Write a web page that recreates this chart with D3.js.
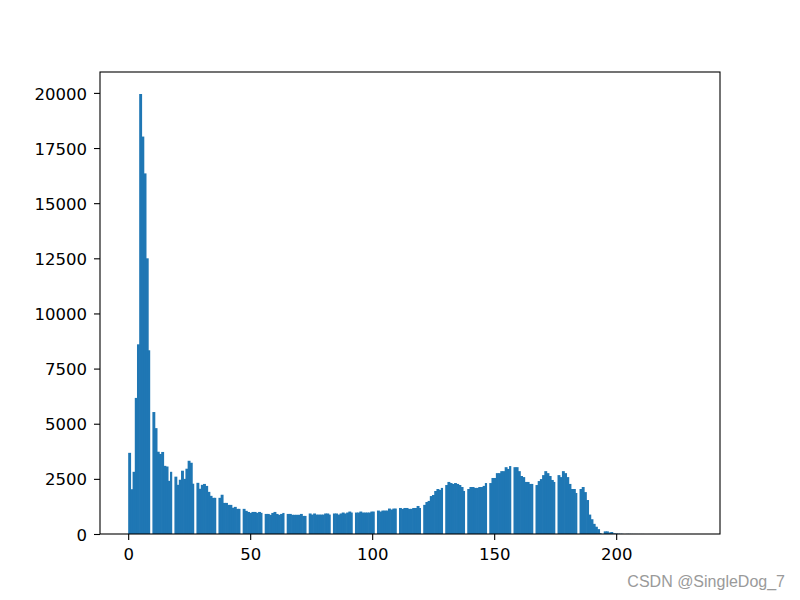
<!DOCTYPE html>
<html>
<head>
<meta charset="utf-8">
<script src="https://cdn.jsdelivr.net/npm/d3@7"></script>
<style>
  html, body { margin: 0; padding: 0; background: #ffffff; }
  svg { display: block; }
</style>
</head>
<body>
<svg id="chart" width="800" height="600"></svg>
<script>
// Pixel counts for intensity values 0..231 (index = intensity)
const counts = [
  3680, 2030, 2820, 6170, 8600, 19950, 18020, 16350, 12500, 8330,
  5530, 4800, 3730, 3630, 3720, 3090, 3060, 2410, 2820, 2600,
  2230, 2460, 2870, 2500, 2960, 3320, 3230, 2280, 2320, 2050,
  2230, 2270, 2180, 1910, 1730, 1640, 1640, 1640, 1780, 1410,
  1410, 1320, 1320, 1190, 1230, 1140, 1140, 1140, 1050, 1000,
  960, 1000, 1000, 960, 1000, 960, 910, 910, 870, 955,
  1000, 910, 870, 910, 955, 910, 910, 870, 870, 870,
  870, 910, 820, 820, 930, 880, 930, 880, 880, 880,
  880, 930, 930, 880, 930, 930, 880, 930, 973, 930,
  973, 1018, 973, 973, 973, 1018, 973, 973, 973, 973,
  1018, 1018, 1063, 1018, 1063, 1063, 1063, 1154, 1109, 1154,
  1154, 1180, 1140, 1180, 1180, 1140, 1140, 1180, 1180, 1270,
  1180, 1320, 1450, 1500, 1720, 1770, 1950, 2040, 2000, 2090,
  2220, 2360, 2310, 2270, 2310, 2270, 2220, 2130, 1950, 2040,
  2130, 2130, 2090, 2090, 2130, 2130, 2180, 2310, 2310, 2540,
  2540, 2760, 2760, 2850, 2850, 3030, 2950, 3080, 3030, 3030,
  2850, 2630, 2580, 2360, 2360, 2270, 2270, 2220, 2400, 2490,
  2670, 2850, 2760, 2630, 2450, 2360, 2670, 2580, 2850, 2760,
  2580, 2270, 2040, 2040, 1860, 2040, 2130, 1900, 1540, 880,
  670, 460, 330, 220, 40, 120, 120, 70, 90, 30,
  20, 15, 10, 8, 6, 5, 4, 3, 3, 2,
  2, 2, 1, 1, 1, 1, 1, 1, 1, 0,
  0, 1, 0, 0, 1, 0, 0, 0, 0, 0,
  0, 1
];
const binCount = 256;
const xTicks = [0, 50, 100, 150, 200];
const yTicks = [0, 2500, 5000, 7500, 10000, 12500, 15000, 17500, 20000];
const watermark = "CSDN @SingleDog_7";

// Histogram: 256 equal bins over [min, max] of the intensity values (like plt.hist(img.ravel(), 256))
const lo = 0, hi = counts.length - 1;
const edges = d3.range(binCount + 1).map(i => lo + i * (hi - lo) / binCount);
const bins = new Array(binCount).fill(0);
counts.forEach((c, v) => {
  let j = Math.floor((v - lo) / (hi - lo) * binCount);
  if (j >= binCount) j = binCount - 1;
  bins[j] += c;
});

const L = 100, R = 720, T = 72, B = 534;
const span = hi - lo;
const x = d3.scaleLinear().domain([lo - 0.05 * span, hi + 0.05 * span]).range([L, R]);
const ymax = d3.max(bins);
const y = d3.scaleLinear().domain([0, ymax * 1.05]).range([B, T]);

const svg = d3.select("#chart");
svg.append("rect").attr("width", 800).attr("height", 600).attr("fill", "#ffffff");

// small overlap into the next non-empty bin hides antialiasing seams between touching bars
svg.append("g").selectAll("rect")
  .data(bins)
  .join("rect")
  .attr("x", (d, i) => x(edges[i]))
  .attr("width", (d, i) => x(edges[i + 1]) - x(edges[i]) + (i < binCount - 1 && bins[i + 1] > 0 ? 0.7 : 0))
  .attr("y", d => y(d))
  .attr("height", d => B - y(d))
  .attr("fill", "#1f77b4");

const font = "'DejaVu Sans', sans-serif";

const gx = svg.append("g").attr("transform", `translate(0,${B})`)
  .call(d3.axisBottom(x).tickValues(xTicks).tickFormat(d3.format("d")).tickSize(6).tickPadding(8));
gx.select(".domain").remove();
gx.selectAll("line").attr("stroke", "#000").attr("stroke-width", 1.1);
gx.selectAll("text").attr("font-family", font).attr("font-size", "16.5px").attr("fill", "#000");

const gy = svg.append("g").attr("transform", `translate(${L},0)`)
  .call(d3.axisLeft(y).tickValues(yTicks).tickFormat(d3.format("d")).tickSize(6).tickPadding(7));
gy.select(".domain").remove();
gy.selectAll("line").attr("stroke", "#000").attr("stroke-width", 1.1);
gy.selectAll("text").attr("font-family", font).attr("font-size", "16.5px").attr("fill", "#000").attr("dy", "0.37em");

svg.append("rect")
  .attr("x", L).attr("y", T).attr("width", R - L).attr("height", B - T)
  .attr("fill", "none").attr("stroke", "#000").attr("stroke-width", 1.1);

svg.append("text")
  .attr("x", 785).attr("y", 587)
  .attr("text-anchor", "end")
  .attr("font-family", "'Liberation Sans', Arial, sans-serif")
  .attr("font-size", "16px")
  .attr("fill", "#9a9a9a")
  .text(watermark);
</script>
</body>
</html>
